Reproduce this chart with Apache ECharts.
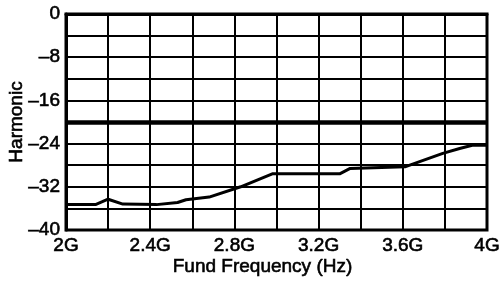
<!DOCTYPE html>
<html>
<head>
<meta charset="utf-8">
<script src="https://cdn.jsdelivr.net/npm/echarts@6/dist/echarts.min.js"></script>
<style>
  html, body { margin: 0; padding: 0; background: #fff; }
  #chart { width: 501px; height: 292px; }
</style>
</head>
<body>
<div id="chart"></div>
<script>
// values, frequency in GHz
var freqs = [2.0, 2.14, 2.2, 2.27, 2.43, 2.53, 2.57, 2.68, 2.83, 2.98, 3.30, 3.35, 3.61, 3.79, 3.87, 3.93, 4.0]
var harmonic = [-35.3, -35.3, -34.3, -35.2, -35.3, -34.9, -34.4, -33.9, -32.0, -29.6, -29.6, -28.6, -28.3, -25.8, -24.9, -24.3, -24.3]
var limitLevel = [-20]

var font = '"Liberation Sans", Arial, sans-serif'
// a thin outline in the text colour makes the strokes look heavier, like the scan
var textStyle = {
  color: '#000',
  fontFamily: font,
  fontSize: 19,
  textBorderColor: '#000',
  textBorderWidth: 0.6
}

var points = freqs.map(function (f, i) {
  return [f, harmonic[i]]
})

var myChart = echarts.init(document.getElementById('chart'))
myChart.setOption({
  animation: false,
  grid: {
    left: 66,
    right: 14,
    top: 14,
    bottom: 62,
    outerBoundsMode: 'none',
    containLabel: false,
    show: true,
    borderColor: '#000',
    borderWidth: 3
  },
  xAxis: {
    type: 'value',
    min: 2,
    max: 4,
    interval: 0.2,
    name: 'Fund Frequency (Hz)',
    nameLocation: 'middle',
    nameGap: 27,
    nameMoveOverlap: false,
    nameTextStyle: Object.assign({}, textStyle, { padding: [0, 28, 0, 0] }),
    axisLine: { show: true, lineStyle: { color: '#000', width: 3 } },
    axisTick: { show: false },
    axisLabel: Object.assign({}, textStyle, {
      margin: 6,
      formatter: function (v) {
        if (Math.round(v * 10) % 4 !== 0) return ''
        return +v.toFixed(1) + 'G'
      }
    }),
    splitLine: { show: true, lineStyle: { color: '#000', width: 2 } }
  },
  yAxis: {
    type: 'value',
    min: -40,
    max: 0,
    interval: 4,
    name: 'Harmonic',
    nameLocation: 'middle',
    nameGap: 40,
    nameMoveOverlap: false,
    nameTextStyle: textStyle,
    axisLine: { show: true, lineStyle: { color: '#000', width: 3 } },
    axisTick: { show: false },
    axisLabel: Object.assign({}, textStyle, {
      margin: 6,
      formatter: function (v) {
        if (v % 8 !== 0) return ''
        return v === 0 ? '0' : '\u2013' + Math.abs(v)
      }
    }),
    splitLine: { show: true, lineStyle: { color: '#000', width: 2 } }
  },
  series: [
    {
      type: 'line',
      data: points,
      symbol: 'none',
      lineStyle: { color: '#000', width: 3 },
      markLine: {
        silent: true,
        symbol: 'none',
        label: { show: false },
        lineStyle: { color: '#000', width: 4.5, type: 'solid' },
        data: limitLevel.map(function (v) { return { yAxis: v } })
      }
    }
  ]
})
</script>
</body>
</html>
